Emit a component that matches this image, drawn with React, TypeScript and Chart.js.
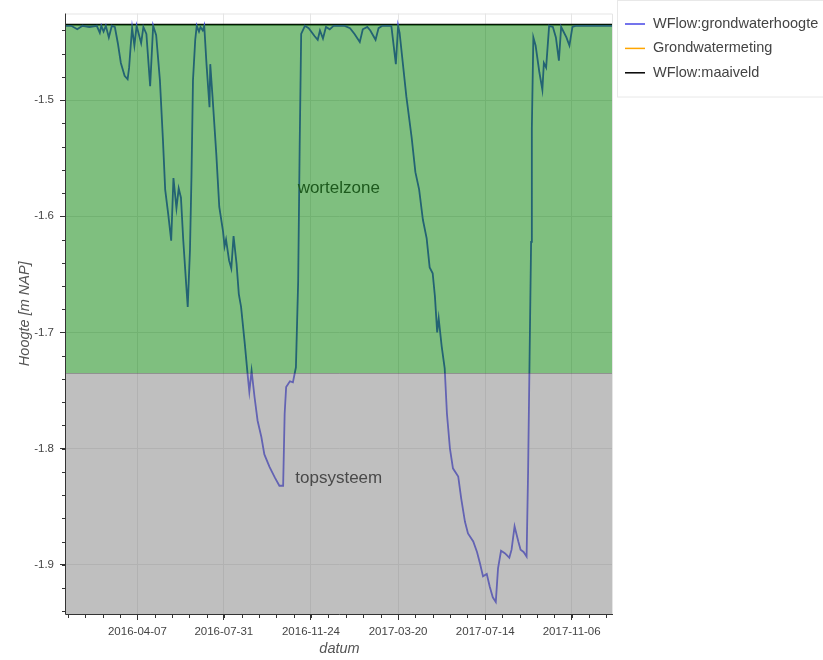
import React, { useEffect, useRef } from 'react';
import { Chart, registerables } from 'chart.js';

Chart.register(...registerables);

// ---- data ----
const dates = [
  '2016-01-03', '2016-01-10', '2016-01-18', '2016-01-25', '2016-02-03', '2016-02-13', '2016-02-17', '2016-02-19',
  '2016-02-22', '2016-02-25', '2016-02-29', '2016-03-04', '2016-03-08', '2016-03-12', '2016-03-16', '2016-03-21',
  '2016-03-25', '2016-03-27', '2016-03-29', '2016-03-31', '2016-04-03', '2016-04-06', '2016-04-12', '2016-04-15',
  '2016-04-19', '2016-04-24', '2016-04-28', '2016-05-02', '2016-05-07', '2016-05-11', '2016-05-14', '2016-05-18',
  '2016-05-22', '2016-05-25', '2016-05-29', '2016-06-01', '2016-06-04', '2016-06-07', '2016-06-11', '2016-06-13',
  '2016-06-16', '2016-06-18', '2016-06-20', '2016-06-23', '2016-06-25', '2016-06-28', '2016-06-30', '2016-07-03',
  '2016-07-05', '2016-07-08', '2016-07-12', '2016-07-13', '2016-07-16', '2016-07-21', '2016-07-25', '2016-07-30',
  '2016-08-01', '2016-08-03', '2016-08-07', '2016-08-10', '2016-08-13', '2016-08-17', '2016-08-20', '2016-08-23',
  '2016-08-28', '2016-09-01', '2016-09-03', '2016-09-06', '2016-09-10', '2016-09-14', '2016-09-19', '2016-09-23',
  '2016-09-30', '2016-10-07', '2016-10-13', '2016-10-18', '2016-10-20', '2016-10-22', '2016-10-27', '2016-10-31',
  '2016-11-04', '2016-11-07', '2016-11-09', '2016-11-11', '2016-11-16', '2016-11-21', '2016-11-29', '2016-12-03',
  '2016-12-06', '2016-12-10', '2016-12-14', '2016-12-19', '2016-12-24', '2017-01-08', '2017-01-15', '2017-01-21',
  '2017-01-28', '2017-02-01', '2017-02-07', '2017-02-11', '2017-02-18', '2017-02-22', '2017-02-27', '2017-03-11',
  '2017-03-17', '2017-03-20', '2017-03-22', '2017-03-31', '2017-04-07', '2017-04-12', '2017-04-17', '2017-04-22',
  '2017-04-27', '2017-05-01', '2017-05-05', '2017-05-08', '2017-05-11', '2017-05-13', '2017-05-17', '2017-05-21',
  '2017-05-24', '2017-05-28', '2017-06-01', '2017-06-08', '2017-06-12', '2017-06-17', '2017-06-21', '2017-06-28',
  '2017-07-03', '2017-07-07', '2017-07-11', '2017-07-16', '2017-07-20', '2017-07-24', '2017-07-28', '2017-07-31',
  '2017-08-04', '2017-08-09', '2017-08-12', '2017-08-15', '2017-08-18', '2017-08-22', '2017-08-27', '2017-08-30',
  '2017-09-03', '2017-09-07', '2017-09-09', '2017-09-11', '2017-09-13', '2017-09-14', '2017-09-16', '2017-09-19',
  '2017-09-24', '2017-09-28', '2017-09-30', '2017-10-03', '2017-10-07', '2017-10-12', '2017-10-16', '2017-10-20',
  '2017-10-23', '2017-10-30', '2017-11-03', '2017-11-07', '2017-11-11', '2017-11-23', '2017-12-07', '2017-12-20',
  '2017-12-31',
];

const grondwaterhoogte = [
  -1.436, -1.436, -1.439, -1.436, -1.437, -1.436, -1.442, -1.436,
  -1.441, -1.436, -1.446, -1.436, -1.437, -1.451, -1.468, -1.479,
  -1.482, -1.472, -1.454, -1.438, -1.453, -1.436, -1.451, -1.437,
  -1.443, -1.488, -1.436, -1.444, -1.483, -1.534, -1.577, -1.598,
  -1.621, -1.567, -1.593, -1.576, -1.584, -1.620, -1.659, -1.678,
  -1.629, -1.566, -1.483, -1.448, -1.436, -1.441, -1.437, -1.440,
  -1.436, -1.469, -1.506, -1.469, -1.497, -1.546, -1.592, -1.613,
  -1.626, -1.620, -1.638, -1.645, -1.617, -1.641, -1.667, -1.678,
  -1.710, -1.738, -1.751, -1.733, -1.756, -1.776, -1.790, -1.805,
  -1.816, -1.825, -1.832, -1.832, -1.770, -1.747, -1.742, -1.743,
  -1.730, -1.656, -1.540, -1.443, -1.436, -1.438, -1.445, -1.448,
  -1.440, -1.447, -1.437, -1.439, -1.436, -1.436, -1.438, -1.443,
  -1.450, -1.439, -1.437, -1.440, -1.448, -1.438, -1.436, -1.436,
  -1.469, -1.436, -1.442, -1.497, -1.532, -1.562, -1.577, -1.603,
  -1.619, -1.644, -1.649, -1.669, -1.700, -1.688, -1.712, -1.731,
  -1.770, -1.800, -1.817, -1.824, -1.843, -1.863, -1.873, -1.880,
  -1.889, -1.899, -1.910, -1.908, -1.919, -1.928, -1.932, -1.903,
  -1.888, -1.890, -1.892, -1.894, -1.887, -1.867, -1.880, -1.887,
  -1.889, -1.893, -1.820, -1.721, -1.622, -1.524, -1.446, -1.453,
  -1.476, -1.491, -1.468, -1.472, -1.436, -1.437, -1.446, -1.466,
  -1.437, -1.446, -1.453, -1.437, -1.436, -1.436, -1.436, -1.436,
  -1.436,
];

const grondwatermetingDates: string[] = [];
const grondwatermeting: number[] = [];

const maaiveldDates = ['2016-01-03', '2017-12-31'];
const maaiveld = [-1.435, -1.435];

const seriesNames = ['WFlow:grondwaterhoogte', 'Grondwatermeting', 'WFlow:maaiveld'];

const xTickDates = ['2016-04-07', '2016-07-31', '2016-11-24', '2017-03-20', '2017-07-14', '2017-11-06'];
const yTickValues = [-1.9, -1.8, -1.7, -1.6, -1.5];
const xRange = ['2016-01-03', '2017-12-31'];
const yRange = [-1.9424, -1.4254];

const wortelzoneTop = -1.435;
const wortelzoneBottom = -1.735;

const zoneLabels = ['wortelzone', 'topsysteem'];
const zoneLabelDates = ['2016-12-31', '2016-12-31'];
const zoneLabelValues = [-1.576, -1.826];

// ---- helpers / styling ----
const FONT = "'Liberation Sans', Arial, Helvetica, sans-serif";
const toTs = (d: string) => Date.parse(d + 'T00:00:00Z');
const fmt = (v: number) => new Date(v).toISOString().slice(0, 10);

const overlayPlugin = {
  id: 'overlayPlugin',
  afterDatasetsDraw(chart: any) {
    const { ctx, chartArea: a, scales } = chart;
    const x = scales.x;
    const y = scales.y;
    const yTop = y.getPixelForValue(wortelzoneTop);
    const yMid = y.getPixelForValue(wortelzoneBottom);
    ctx.save();
    ctx.fillStyle = 'rgba(0,128,0,0.5)';
    ctx.fillRect(a.left, yTop, a.right - a.left, yMid - yTop);
    ctx.fillStyle = 'rgba(128,128,128,0.5)';
    ctx.fillRect(a.left, yMid, a.right - a.left, a.bottom - yMid);
    ctx.strokeStyle = 'rgba(40,40,40,0.3)';
    ctx.lineWidth = 1;
    ctx.beginPath();
    ctx.moveTo(a.left, Math.round(yMid) + 0.5);
    ctx.lineTo(a.right, Math.round(yMid) + 0.5);
    ctx.stroke();

    // zone labels
    ctx.font = `17px ${FONT}`;
    ctx.textAlign = 'center';
    ctx.textBaseline = 'middle';
    const labelColors = ['#1d5a1d', '#4a4a4a'];
    zoneLabels.forEach((t, i) => {
      ctx.fillStyle = labelColors[i];
      ctx.fillText(t, x.getPixelForValue(toTs(zoneLabelDates[i])), y.getPixelForValue(zoneLabelValues[i]));
    });

    // frame outline
    ctx.strokeStyle = '#e5e5e5';
    ctx.beginPath();
    ctx.moveTo(a.left, a.top + 0.5);
    ctx.lineTo(a.right - 0.5, a.top + 0.5);
    ctx.lineTo(a.right - 0.5, a.bottom);
    ctx.stroke();
    ctx.restore();
  },
  afterDraw(chart: any) {
    const { ctx, chartArea: a, scales } = chart;
    const x = scales.x;
    const y = scales.y;
    ctx.save();
    ctx.strokeStyle = '#333';
    ctx.lineWidth = 1;
    // axis lines
    ctx.beginPath();
    ctx.moveTo(a.left - 0.5, a.top);
    ctx.lineTo(a.left - 0.5, a.bottom + 0.5);
    ctx.lineTo(a.right, a.bottom + 0.5);
    ctx.stroke();
    // minor ticks x
    const majors = xTickDates.map(toTs);
    const step = (majors[majors.length - 1] - majors[0]) / (majors.length - 1) / 5;
    ctx.beginPath();
    for (let t = majors[0]; t >= x.min; t -= step) {
      const px = Math.round(x.getPixelForValue(t)) + 0.5;
      ctx.moveTo(px, a.bottom); ctx.lineTo(px, a.bottom + 4);
    }
    for (let t = majors[0]; t <= x.max; t += step) {
      const px = Math.round(x.getPixelForValue(t)) + 0.5;
      ctx.moveTo(px, a.bottom); ctx.lineTo(px, a.bottom + 4);
    }
    // minor ticks y
    for (let v = -1.94; v <= y.max; v += 0.02) {
      const py = Math.round(y.getPixelForValue(v)) + 0.5;
      ctx.moveTo(a.left - 4, py); ctx.lineTo(a.left, py);
    }
    ctx.stroke();

    // legend
    ctx.strokeStyle = '#e8e8e8';
    ctx.strokeRect(617.5, 0.5, 220, 96.5);
    ctx.font = `14.5px ${FONT}`;
    ctx.textAlign = 'left';
    ctx.textBaseline = 'middle';
    chart.data.datasets.forEach((ds: any, i: number) => {
      const cy = 24 + i * 24.4;
      ctx.strokeStyle = ds.borderColor;
      ctx.lineWidth = 1.5;
      ctx.beginPath();
      ctx.moveTo(625, cy); ctx.lineTo(645, cy);
      ctx.stroke();
      ctx.fillStyle = '#444';
      ctx.fillText(ds.label, 653, cy);
    });
    ctx.restore();
  },
};

export default function App() {
  const ref = useRef<HTMLCanvasElement | null>(null);
  useEffect(() => {
    if (!ref.current) return;
    const tickFont = { family: FONT, size: 11.5 };
    const titleFont = { family: FONT, size: 14.5, style: 'italic' as const };
    const chart = new Chart(ref.current, {
      type: 'line',
      data: {
        datasets: [
          {
            label: seriesNames[0],
            data: dates.map((d, i) => ({ x: toTs(d), y: grondwaterhoogte[i] })),
            borderColor: '#4646e6',
            borderWidth: 1.8,
            pointRadius: 0,
            tension: 0,
          },
          {
            label: seriesNames[1],
            data: grondwatermetingDates.map((d, i) => ({ x: toTs(d), y: grondwatermeting[i] })),
            borderColor: '#ffa500',
            borderWidth: 1.6,
            pointRadius: 0,
          },
          {
            label: seriesNames[2],
            data: maaiveldDates.map((d, i) => ({ x: toTs(d), y: maaiveld[i] })),
            borderColor: '#000000',
            borderWidth: 1.6,
            pointRadius: 0,
          },
        ],
      },
      options: {
        animation: false,
        responsive: true,
        maintainAspectRatio: false,
        layout: { padding: { top: 13.5, right: 210, bottom: 0, left: 0 } },
        plugins: { legend: { display: false }, tooltip: { enabled: false } },
        scales: {
          x: {
            type: 'linear',
            min: toTs(xRange[0]),
            max: toTs(xRange[1]),
            afterBuildTicks: (s: any) => {
              s.ticks = xTickDates.map((d) => ({ value: toTs(d) }));
            },
            afterFit: (s: any) => {
              s.height = 46;
            },
            ticks: {
              autoSkip: false,
              maxRotation: 0,
              minRotation: 0,
              padding: 5,
              color: '#444',
              font: tickFont,
              callback: (v: any) => fmt(Number(v)),
            },
            grid: { color: '#e5e5e5', tickColor: '#333', tickLength: 6, lineWidth: 1 },
            border: { display: false },
            title: { display: true, text: 'datum', color: '#555', font: titleFont, padding: { top: 0, bottom: 2 } },
          },
          y: {
            type: 'linear',
            min: yRange[0],
            max: yRange[1],
            afterBuildTicks: (s: any) => {
              s.ticks = yTickValues.map((v) => ({ value: v }));
            },
            afterFit: (s: any) => {
              s.width = 66;
            },
            ticks: {
              padding: 6,
              color: '#444',
              font: tickFont,
              callback: (v: any) => String(Number(v).toFixed(1)),
            },
            grid: { color: '#e5e5e5', tickColor: '#333', tickLength: 6, lineWidth: 1 },
            border: { display: false },
            title: { display: true, text: 'Hoogte [m NAP]', color: '#555', font: titleFont, padding: { top: 16, bottom: 0 } },
          },
        },
      },
      plugins: [overlayPlugin],
    } as any);
    return () => chart.destroy();
  }, []);

  return (
    <div style={{ position: 'fixed', left: 0, top: 0, width: 823, height: 660, background: '#fff' }}>
      <canvas ref={ref} />
    </div>
  );
}
